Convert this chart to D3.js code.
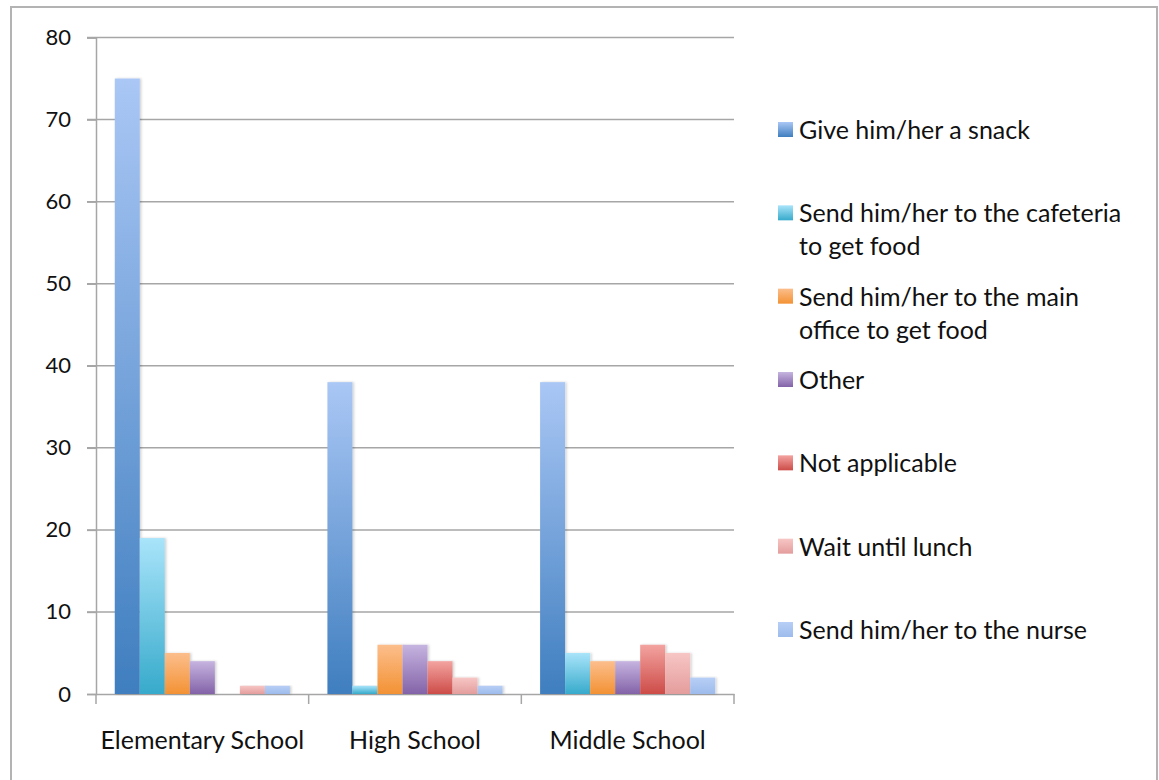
<!DOCTYPE html>
<html>
<head>
<meta charset="utf-8">
<script src="https://cdn.jsdelivr.net/npm/d3@7"></script>
<style>
  body { margin: 0; background: #fff; }
  text { font-family: Lato, "Open Sans", sans-serif; fill: #111; }
</style>
</head>
<body>
<div id="chart"></div>
<script>
var categories = ['Elementary School', 'High School', 'Middle School'];
var seriesNames = [
  'Give him/her a snack',
  'Send him/her to the cafeteria to get food',
  'Send him/her to the main office to get food',
  'Other',
  'Not applicable',
  'Wait until lunch',
  'Send him/her to the nurse'
];
// legend wraps like the original
var legendLines = [
  ['Give him/her a snack'],
  ['Send him/her to the cafeteria', 'to get food'],
  ['Send him/her to the main', 'office to get food'],
  ['Other'],
  ['Not applicable'],
  ['Wait until lunch'],
  ['Send him/her to the nurse']
];
// values per series, in category order
var snack = [75, 38, 38];
var cafeteria = [19, 1, 5];
var mainOffice = [5, 6, 4];
var other = [4, 6, 4];
var notApplicable = [0, 4, 6];
var waitLunch = [1, 2, 5];
var nurse = [1, 1, 2];
var yTicks = [0, 10, 20, 30, 40, 50, 60, 70, 80];

var seriesValues = [snack, cafeteria, mainOffice, other, notApplicable, waitLunch, nurse];
// gradient colours [top, bottom]
var colors = [
  ['#aac7f5', '#3f7ebf'],
  ['#a9e4fa', '#37aacb'],
  ['#fcbe8c', '#f39234'],
  ['#c6b4e0', '#8363a8'],
  ['#f3a3a0', '#cd4c48'],
  ['#f7c6c5', '#e39d9c'],
  ['#b7cff6', '#9dbbeb']
];

var W = 1159, H = 780;
var margin = { left: 96, right: 425, top: 37.5, bottom: 86 };
var w = W - margin.left - margin.right;
var h = H - margin.top - margin.bottom;

var svg = d3.select('#chart').append('svg')
  .attr('width', W)
  .attr('height', H);

var defs = svg.append('defs');
colors.forEach(function(c, i) {
  var g = defs.append('linearGradient')
    .attr('id', 'grad' + i)
    .attr('x1', 0).attr('y1', 0).attr('x2', 0).attr('y2', 1);
  g.append('stop').attr('offset', '0%').attr('stop-color', c[0]);
  g.append('stop').attr('offset', '100%').attr('stop-color', c[1]);
});
var shadow = defs.append('filter').attr('id', 'shadow')
  .attr('x', '-20%').attr('y', '-5%').attr('width', '150%').attr('height', '120%');
shadow.append('feDropShadow')
  .attr('dx', 1.5).attr('dy', 0).attr('stdDeviation', 1.2)
  .attr('flood-color', '#000').attr('flood-opacity', 0.18);

// outer frame
svg.append('rect')
  .attr('x', 11).attr('y', 7)
  .attr('width', 1146).attr('height', 800)
  .attr('fill', 'none')
  .attr('stroke', '#b3b3b3')
  .attr('stroke-width', 2);

var g = svg.append('g')
  .attr('transform', 'translate(' + margin.left + ',' + margin.top + ')');

var x0 = d3.scaleBand().domain(categories).range([0, w]);
var x1 = d3.scaleBand().domain(seriesNames).range([0, x0.bandwidth()])
  .paddingInner(0).paddingOuter(0.75);
var y = d3.scaleLinear().domain([0, 80]).range([h, 0]);

// gridlines
g.append('g')
  .selectAll('line')
  .data(yTicks.slice(1))
  .enter().append('line')
  .attr('x1', -9).attr('x2', w)
  .attr('y1', function(d) { return y(d); })
  .attr('y2', function(d) { return y(d); })
  .attr('stroke', '#a6a6a6')
  .attr('stroke-width', 1.5);

// y axis
var yAxis = d3.axisLeft(y).tickValues(yTicks).tickSize(9).tickPadding(16);
var ya = g.append('g').call(yAxis);
ya.select('.domain').attr('stroke', '#a6a6a6').attr('stroke-width', 1.5);
ya.selectAll('.tick line').attr('stroke', '#a6a6a6').attr('stroke-width', 1.5);
ya.selectAll('.tick text')
  .style('font-size', '22px')
  .style('font-family', 'Lato, sans-serif')
  .attr('fill', '#111');

// x axis
var xa = g.append('g')
  .attr('transform', 'translate(0,' + h + ')')
  .call(d3.axisBottom(x0).tickSize(0).tickPadding(37));
xa.select('.domain').attr('stroke', '#a6a6a6').attr('stroke-width', 1.5);
xa.selectAll('.tick text')
  .style('font-size', '25px')
  .style('font-family', 'Lato, sans-serif')
  .attr('fill', '#111');
// category boundary ticks
var edges = categories.map(function(c) { return x0(c); }).concat([w]);
g.append('g').selectAll('line')
  .data(edges)
  .enter().append('line')
  .attr('x1', function(d) { return d; })
  .attr('x2', function(d) { return d; })
  .attr('y1', h).attr('y2', h + 10)
  .attr('stroke', '#a6a6a6')
  .attr('stroke-width', 1.5);

// bars
var groups = g.append('g').selectAll('g')
  .data(categories)
  .enter().append('g')
  .attr('transform', function(c) { return 'translate(' + x0(c) + ',0)'; });

groups.selectAll('rect')
  .data(function(c, ci) {
    return seriesNames.map(function(s, si) {
      return { series: s, idx: si, value: seriesValues[si][ci] };
    });
  })
  .enter().append('rect')
  .filter(function(d) { return d.value > 0; })
  .attr('x', function(d) { return x1(d.series); })
  .attr('width', x1.bandwidth())
  .attr('y', function(d) { return y(d.value); })
  .attr('height', function(d) { return h - y(d.value); })
  .attr('fill', function(d) { return 'url(#grad' + d.idx + ')'; })
  .attr('filter', 'url(#shadow)');

// legend
var legend = svg.append('g').attr('transform', 'translate(778,0)');
var legendY = d3.scaleLinear().domain([0, seriesNames.length - 1]).range([131, 631]);
legendLines.forEach(function(lines, i) {
  var cy = legendY(i);
  legend.append('rect')
    .attr('x', 0).attr('y', cy - 9)
    .attr('width', 15).attr('height', 15)
    .attr('fill', 'url(#grad' + i + ')');
  var t = legend.append('text')
    .attr('x', 21).attr('y', cy + 8)
    .style('font-size', '25px');
  lines.forEach(function(line, li) {
    t.append('tspan')
      .attr('x', 21)
      .attr('dy', li === 0 ? 0 : 33)
      .text(line);
  });
});
</script>
</body>
</html>
